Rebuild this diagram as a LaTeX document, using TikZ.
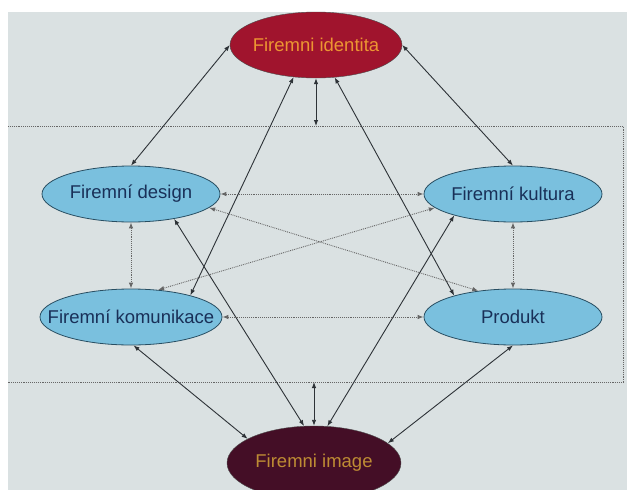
\documentclass[tikz,border=0pt]{standalone}
\usepackage{fontspec}
\setmainfont{Liberation Sans}
\usepackage{tikz}
\usetikzlibrary{arrows.meta,shapes.geometric,positioning}
\definecolor{paper}{RGB}{218,225,226}
\definecolor{skyfill}{RGB}{122,192,222}
\definecolor{skyline}{RGB}{40,78,98}
\definecolor{skytext}{RGB}{25,48,88}
\definecolor{redfill}{RGB}{160,20,45}
\definecolor{redtext}{RGB}{236,150,50}
\definecolor{plumfill}{RGB}{68,14,38}
\definecolor{plumtext}{RGB}{190,140,52}
\definecolor{wire}{RGB}{45,50,55}
\newcommand{\lbl}[1]{\makebox[0pt]{#1}}
\tikzstyle{core}=[draw=black!70,ellipse,minimum width=172pt,minimum height=66pt,inner sep=0pt,font=\fontsize{18.5}{22}\selectfont]
\tikzstyle{part}=[draw=skyline,fill=skyfill,text=skytext,ellipse,minimum width=178pt,minimum height=56pt,inner sep=0pt,line width=0.8pt,font=\fontsize{18.5}{22}\selectfont]
\tikzstyle{link}=[draw=wire,line width=0.9pt,{Latex[length=6pt,width=4.5pt]}-{Latex[length=6pt,width=4.5pt]}]
\tikzstyle{loose}=[link,draw=black!60,densely dotted]

\begin{document}
\begin{tikzpicture}[x=1pt,y=-1pt]
\useasboundingbox (0,0) rectangle (627,490);
\clip (0,0) rectangle (627,490);
\fill[white] (0,0) rectangle (627,490);
\fill[paper] (8,12) rectangle (627,490);
% frame round the four parts
\draw[black!60,line width=0.9pt,densely dotted] (8,126) -- (623,126) -- (623,382) -- (8,382);
\coordinate (rtop) at (316,126);
\coordinate (rbot) at (314,382);

\node [core,fill=redfill,text=redtext] (ident) at (316,45) {\lbl{Firemni identita}};
\node [core,fill=plumfill,text=plumtext,minimum width=174pt,minimum height=74pt] (image) at (314,463) {\lbl{Firemni image}};
\node [part] (design) at (131,194) {\lbl{Firemní design}};
\node [part] (kultura) at (513,194) {\lbl{Firemní kultura}};
\node [part,minimum width=182pt] (komun) at (131,317) {\lbl{Firemní komunikace}};
\node [part] (produkt) at (513,317) {\lbl{Produkt}};

% identita
\draw [link] (ident.west) -- (design.north);
\draw [link] (ident.east) -- (kultura.north);
\draw [link] (ident.south) -- (rtop);
\draw [link] (ident.235) -- (komun.20);
\draw [link] (ident.300) -- (produkt.160);
% image
\draw [link] (design.330) -- (image.105);
\draw [link] (kultura.200) -- (image.70);
\draw [link] (rbot) -- (image.north);
\draw [link] (komun.275) -- (image.160);
\draw [link] (produkt.south) -- (image.15);
% parts among themselves
\draw [loose] (design.east) -- (kultura.west);
\draw [loose] (komun.east) -- (produkt.west);
\draw [loose] (design.south) -- (komun.north);
\draw [loose] (kultura.south) -- (produkt.north);
\draw [loose] (design.350) -- (produkt.143);
\draw [loose] (kultura.190) -- (komun.45);
\end{tikzpicture}
\end{document}
